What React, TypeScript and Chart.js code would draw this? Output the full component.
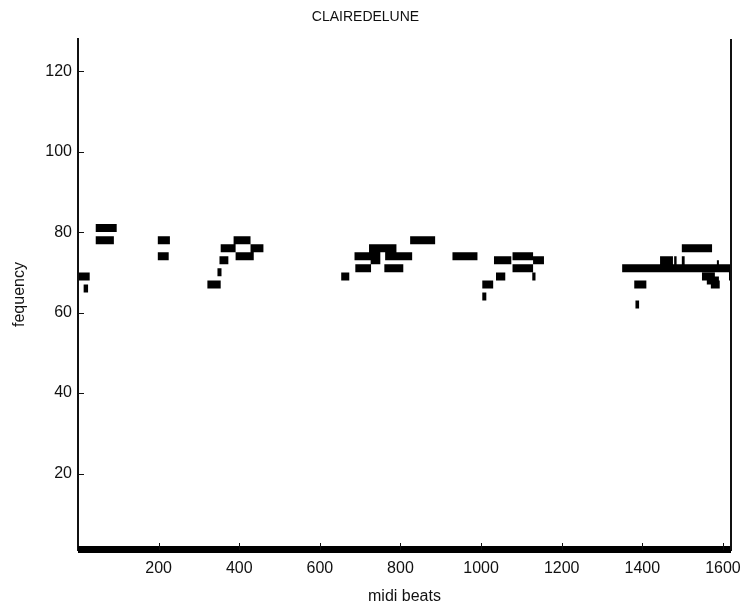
import React, { useEffect, useRef } from 'react';
import { Chart, registerables } from 'chart.js';

Chart.register(...registerables);

const chartTitle = 'CLAIREDELUNE';
const xLabel = 'midi beats';
const yLabel = 'fequency';

// note start beat, end beat, pitch
const noteStart = [0, 2, 14, 44, 44, 198, 198, 321, 346, 351, 354, 386, 428, 391, 653, 686, 722, 726, 688, 762, 760, 824, 929, 1003, 1003, 1037, 1032, 1078, 1078, 1129, 1127, 1383, 1380, 1350, 1444, 1479, 1498, 1498, 1585, 1548, 1560, 1570, 1615, 1615];
const noteEnd = [1620, 29, 25, 96, 89, 228, 225, 354, 356, 373, 391, 428, 460, 436, 673, 750, 790, 750, 727, 829, 807, 886, 991, 1013, 1030, 1060, 1075, 1129, 1129, 1156, 1135, 1392, 1410, 1620, 1476, 1485, 1505, 1573, 1590, 1580, 1590, 1592, 1620, 1620];
const notePitch = [1, 69, 66, 81, 78, 78, 74, 67, 70, 73, 76, 78, 76, 74, 69, 74, 76, 73, 71, 74, 71, 78, 74, 64, 67, 69, 73, 74, 71, 73, 69, 62, 67, 71, 73, 73, 73, 76, 72, 69, 68, 67, 70, 69];

const xTicks = [200, 400, 600, 800, 1000, 1200, 1400, 1600];
const yTicks = [20, 40, 60, 80, 100, 120];

const FONT = "'Liberation Sans', Arial, sans-serif";
const INK = '#111';

const axisPlugin = {
  id: 'matlabAxes',
  afterDraw(chart: any) {
    const { ctx, chartArea, scales } = chart;
    ctx.save();
    ctx.strokeStyle = INK;
    ctx.lineWidth = 1;
    ctx.beginPath();
    xTicks.forEach((v) => {
      const px = Math.round(scales.x.getPixelForValue(v)) + 0.5;
      ctx.moveTo(px, chartArea.bottom);
      ctx.lineTo(px, chartArea.bottom - 7);
    });
    yTicks.forEach((v) => {
      const py = Math.round(scales.y.getPixelForValue(v)) + 0.5;
      ctx.moveTo(chartArea.left, py);
      ctx.lineTo(chartArea.left + 6, py);
    });
    ctx.stroke();
    ctx.lineWidth = 2;
    ctx.beginPath();
    ctx.moveTo(chartArea.right, chartArea.top);
    ctx.lineTo(chartArea.right, chartArea.bottom);
    ctx.stroke();
    ctx.restore();
  },
};

export default function App() {
  const ref = useRef<HTMLCanvasElement | null>(null);

  useEffect(() => {
    if (!ref.current) return;
    const data: any[] = [];
    for (let i = 0; i < notePitch.length; i++) {
      data.push({ x: noteStart[i], y: notePitch[i] });
      data.push({ x: noteEnd[i], y: notePitch[i] });
      data.push({ x: noteEnd[i], y: null });
    }
    const chart = new Chart(ref.current, {
      type: 'line',
      data: {
        datasets: [
          {
            data,
            borderColor: '#000',
            backgroundColor: '#000',
            borderWidth: 8,
            borderCapStyle: 'butt',
            pointRadius: 0,
            spanGaps: false,
            tension: 0,
            clip: { left: 0, right: 0, top: 4, bottom: 3 },
          } as any,
        ],
      },
      options: {
        animation: false,
        responsive: false,
        maintainAspectRatio: false,
        layout: { padding: { left: 0, right: 11, top: 0, bottom: 0 } },
        plugins: {
          legend: { display: false },
          tooltip: { enabled: false },
          title: {
            display: true,
            text: chartTitle,
            color: INK,
            font: { family: FONT, size: 14, weight: 'normal' },
            padding: { top: 9, bottom: 13.2 },
          },
        },
        scales: {
          x: {
            type: 'linear',
            min: 0,
            max: 1620,
            grid: { display: false, drawTicks: false },
            border: { display: true, color: INK, width: 2 },
            afterBuildTicks: (s: any) => {
              s.ticks = xTicks.map((v) => ({ value: v }));
            },
            afterFit: (s: any) => {
              s.height = 57;
              s.paddingRight = 0;
              s.paddingLeft = 0;
            },
            ticks: {
              color: INK,
              font: { family: FONT, size: 16 },
              padding: 9,
              maxRotation: 0,
              autoSkip: false,
              callback: (v: any) => String(v),
            },
            title: {
              display: true,
              text: xLabel,
              color: INK,
              font: { family: FONT, size: 16 },
              padding: { top: 0, bottom: 0.4 },
            },
          },
          y: {
            type: 'linear',
            min: 1,
            max: 128,
            grid: { display: false, drawTicks: false },
            border: { display: true, color: INK, width: 2 },
            afterBuildTicks: (s: any) => {
              s.ticks = yTicks.map((v) => ({ value: v }));
            },
            afterFit: (s: any) => {
              s.width = 78;
              s.paddingTop = 0;
              s.paddingBottom = 0;
            },
            ticks: {
              color: INK,
              font: { family: FONT, size: 16 },
              padding: 6,
              autoSkip: false,
              callback: (v: any) => String(v),
            },
            title: {
              display: true,
              text: yLabel,
              color: INK,
              font: { family: FONT, size: 16 },
              padding: { top: 10, bottom: 0 },
            },
          },
        },
      },
      plugins: [axisPlugin],
    });
    return () => chart.destroy();
  }, []);

  return (
    <div style={{ position: 'absolute', left: 0, top: 0, width: 742, height: 607, background: '#fff' }}>
      <canvas ref={ref} width={742} height={607} style={{ width: 742, height: 607 }} />
    </div>
  );
}
